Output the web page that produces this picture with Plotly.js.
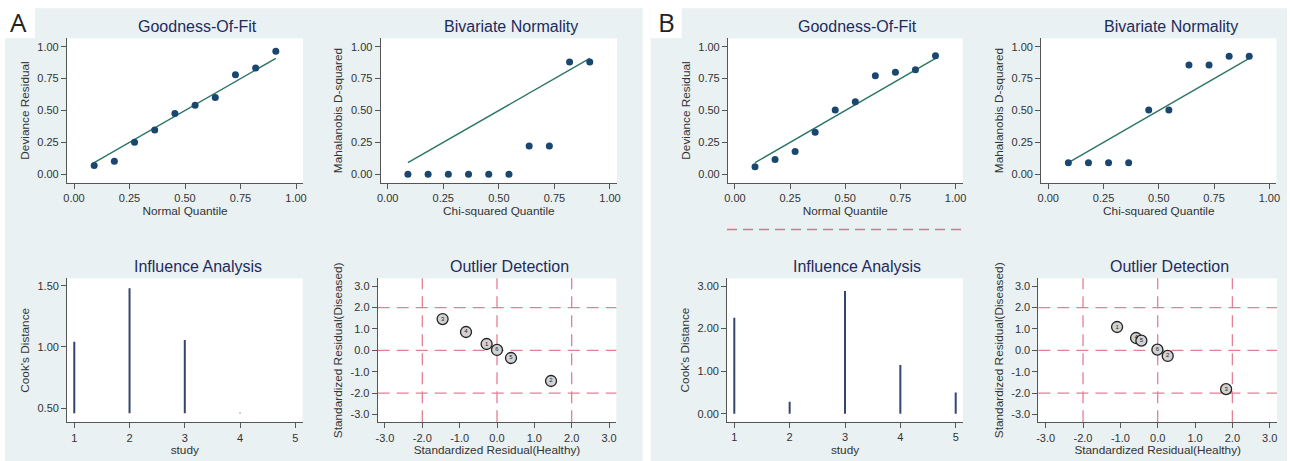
<!DOCTYPE html>
<html><head><meta charset="utf-8">
<script src="https://cdn.plot.ly/plotly-3.0.1.min.js"></script>
<style>html,body{margin:0;padding:0;background:#fff}#chart{width:1290px;height:461px}</style>
</head><body><div id="chart"></div>
<script>
// ---------- data ----------
const quantiles = [0.0909, 0.1818, 0.2727, 0.3636, 0.4545, 0.5455, 0.6364, 0.7273, 0.8182, 0.9091];
const devResidA = [0.068, 0.102, 0.252, 0.348, 0.477, 0.542, 0.602, 0.781, 0.833, 0.964];
const mahalA    = [0.000, 0.000, 0.000, 0.000, 0.000, 0.000, 0.222, 0.222, 0.880, 0.880];
const devResidB = [0.060, 0.115, 0.178, 0.330, 0.503, 0.568, 0.773, 0.799, 0.820, 0.930];
const mahalB    = [0.091, 0.091, 0.091, 0.091, 0.503, 0.503, 0.857, 0.857, 0.925, 0.925];

const studies = [1, 2, 3, 4, 5];
const cookA = [1.043, 1.479, 1.057, 0.463, 0.459];
const cookBaseA = 0.459;
const cookB = [2.256, 0.282, 2.880, 1.144, 0.500];
const cookBaseB = 0;

const healthyA  = [-1.457, -0.830, -0.278, 0.000, 0.375, 1.447];
const diseasedA = [1.463, 0.857, 0.294, 0.016, -0.360, -1.436];
const labelsA   = ["3", "4", "1", "6", "5", "2"];
const healthyB  = [-1.088, -0.579, -0.437, -0.008, 0.268, 1.832];
const diseasedB = [1.090, 0.576, 0.452, 0.030, -0.265, -1.820];
const labelsB   = ["1", "4", "5", "6", "2", "3"];

const outlierRefs = [-2, 0, 2];
const qTicks = [0, 0.25, 0.5, 0.75, 1];
const cookTicksA = [0.5, 1, 1.5];
const cookTicksB = [0, 1, 2, 3];
const outTicks = [-3, -2, -1, 0, 1, 2, 3];

// ---------- helpers ----------
const W = 1290, H = 461;
const FONT = "Liberation Sans, Arial, sans-serif";
const NAVY = "#1a476f";
const TEAL = "#2b7566";
const PINK = "#e57f93";
const BG = "#e9f1f2";
const dx = (l, r) => [l / W, r / W];
const dy = (t, b) => [1 - b / H, 1 - t / H];

function axis(domain, range, anchor, extra) {
  return Object.assign({
    domain: domain, range: range, anchor: anchor,
    showline: true, linecolor: "#555", linewidth: 1,
    ticks: "outside", ticklen: 5, tickwidth: 1, tickcolor: "#555",
    showgrid: false, zeroline: false, automargin: false, fixedrange: true,
    tickfont: {family: FONT, size: 11, color: "#333"}
  }, extra);
}
function ttl(text, standoff) {
  return {text: text, standoff: standoff, font: {family: FONT, size: 11.8, color: "#333"}};
}
function fmt(arr, d) { return arr.map(v => v.toFixed(d)); }

function dots(x, y, xa, ya) {
  return {x: x, y: y, xaxis: xa, yaxis: ya, type: "scatter", mode: "markers",
    marker: {color: NAVY, size: 7}, hoverinfo: "skip", showlegend: false};
}
function refLine(xa, ya) {
  const ends = [quantiles[0], quantiles[quantiles.length - 1]];
  return {x: ends, y: ends, xaxis: xa, yaxis: ya, type: "scatter", mode: "lines",
    line: {color: TEAL, width: 1.4}, hoverinfo: "skip", showlegend: false};
}
function spikes(xs, vals, base, xa, ya) {
  const x = [], y = [];
  xs.forEach((s, i) => { x.push(s, s, null); y.push(base, vals[i], null); });
  return {x: x, y: y, xaxis: xa, yaxis: ya, type: "scatter", mode: "lines",
    line: {color: "#34466e", width: 2}, hoverinfo: "skip", showlegend: false};
}
function circles(x, y, labels, xa, ya) {
  return {x: x, y: y, text: labels, xaxis: xa, yaxis: ya, type: "scatter", mode: "markers+text",
    textposition: "middle center", textfont: {family: FONT, size: 6, color: "#222"},
    marker: {color: "#d2d2d2", size: 11, line: {color: "#222", width: 1.3}},
    hoverinfo: "skip", showlegend: false};
}

const data = [
  refLine("x", "y"), dots(quantiles, devResidA, "x", "y"),
  refLine("x2", "y2"), dots(quantiles, mahalA, "x2", "y2"),
  refLine("x3", "y3"), dots(quantiles, devResidB, "x3", "y3"),
  refLine("x4", "y4"), dots(quantiles, mahalB, "x4", "y4"),
  spikes(studies, cookA, cookBaseA, "x5", "y5"),
  circles(healthyA, diseasedA, labelsA, "x6", "y6"),
  spikes(studies, cookB, cookBaseB, "x7", "y7"),
  circles(healthyB, diseasedB, labelsB, "x8", "y8")
];

const topY = dy(38.3, 182.7);
const qRange = [-0.032, 1.032];
const qyRange = [-0.066, 1.066];
const qx = {tickvals: qTicks, ticktext: fmt(qTicks, 2)};
const outAx = {tickvals: outTicks, ticktext: fmt(outTicks, 1)};

const layout = {
  width: W, height: H,
  margin: {l: 0, r: 0, t: 0, b: 0},
  paper_bgcolor: BG, plot_bgcolor: "#ffffff",
  font: {family: FONT, color: "#333"},
  showlegend: false,
  xaxis:  axis(dx(66.9, 303.1), qRange, "y",  Object.assign({title: ttl("Normal Quantile", 0)}, qx)),
  yaxis:  axis(topY, qyRange, "x",  Object.assign({title: ttl("Deviance Residual", 5)}, qx)),
  xaxis2: axis(dx(380.6, 617.1), qRange, "y2", Object.assign({title: ttl("Chi-squared Quantile", 0)}, qx)),
  yaxis2: axis(topY, qyRange, "x2", Object.assign({title: ttl("Mahalanobis D-squared", 5)}, qx)),
  xaxis3: axis(dx(727.9, 962.6), qRange, "y3", Object.assign({title: ttl("Normal Quantile", 0)}, qx)),
  yaxis3: axis(topY, qyRange, "x3", Object.assign({title: ttl("Deviance Residual", 5)}, qx)),
  xaxis4: axis(dx(1041.2, 1276.4), qRange, "y4", Object.assign({title: ttl("Chi-squared Quantile", 0)}, qx)),
  yaxis4: axis(topY, qyRange, "x4", Object.assign({title: ttl("Mahalanobis D-squared", 5)}, qx)),
  xaxis5: axis(dx(67.1, 302.5), [0.87, 5.13], "y5", {tickvals: studies, ticktext: studies.map(String), title: ttl("study", 0)}),
  yaxis5: axis(dy(278.3, 422.3), [0.386, 1.560], "x5", {tickvals: cookTicksA, ticktext: fmt(cookTicksA, 2), title: ttl("Cook's Distance", 5)}),
  xaxis6: axis(dx(377.7, 616.3), [-3.195, 3.195], "y6", Object.assign({title: ttl("Standardized Residual(Healthy)", 0)}, outAx)),
  yaxis6: axis(dy(278.3, 422.3), [-3.37, 3.37], "x6", Object.assign({title: ttl("Standardized Residual(Diseased)", 5)}, outAx)),
  xaxis7: axis(dx(727.1, 962.9), [0.87, 5.13], "y7", {tickvals: studies, ticktext: studies.map(String), title: ttl("study", 0)}),
  yaxis7: axis(dy(278.3, 421.7), [-0.188, 3.181], "x7", {tickvals: cookTicksB, ticktext: fmt(cookTicksB, 2), title: ttl("Cook's Distance", 5)}),
  xaxis8: axis(dx(1038.4, 1277), [-3.195, 3.195], "y8", Object.assign({title: ttl("Standardized Residual(Healthy)", 0)}, outAx)),
  yaxis8: axis(dy(278.3, 422.3), [-3.37, 3.37], "x8", Object.assign({title: ttl("Standardized Residual(Diseased)", 5)}, outAx)),
  shapes: [],
  annotations: []
};

// white page areas around the two panels
const whiteBoxes = [
  [0, 0, W, 8.3], [0, 0, 5, H], [0, 0, 35, 38.3],
  [642.7, 0, 650.7, H], [650.7, 0, 681.7, 38.3], [1287, 0, W, H]
];
whiteBoxes.forEach(b => layout.shapes.push({
  type: "rect", xref: "paper", yref: "paper", layer: "below",
  x0: b[0] / W, x1: b[2] / W, y0: 1 - b[3] / H, y1: 1 - b[1] / H,
  fillcolor: "#ffffff", line: {width: 0}
}));
// stray dashed line in panel B
layout.shapes.push({type: "line", xref: "paper", yref: "paper",
  x0: 727 / W, x1: 963 / W, y0: 1 - 229.5 / H, y1: 1 - 229.5 / H,
  line: {color: "#e0708a", width: 1.6, dash: "10px,6px"}});

// reference lines in outlier plots
[["x6", "y6"], ["x8", "y8"]].forEach(([xa, ya]) => {
  outlierRefs.forEach(v => {
    layout.shapes.push({type: "line", xref: xa, yref: ya + " domain", x0: v, x1: v, y0: 0, y1: 1,
      layer: "below", line: {color: PINK, width: 1.3, dash: "12px,7px"}});
    layout.shapes.push({type: "line", xref: xa + " domain", yref: ya, x0: 0, x1: 1, y0: v, y1: v,
      layer: "below", line: {color: PINK, width: 1.3, dash: "12px,7px"}});
  });
});

// subplot titles
const titles = [
  ["Goodness-Of-Fit", 197.5, 27], ["Bivariate Normality", 511, 27],
  ["Goodness-Of-Fit", 857.8, 27], ["Bivariate Normality", 1171.3, 27],
  ["Influence Analysis", 197.5, 266.5], ["Outlier Detection", 509.5, 266.5],
  ["Influence Analysis", 857, 266.5], ["Outlier Detection", 1169.5, 266.5]
];
titles.forEach(t => layout.annotations.push({
  text: t[0], xref: "paper", yref: "paper", x: t[1] / W, y: 1 - t[2] / H,
  xanchor: "center", yanchor: "middle", showarrow: false,
  font: {family: FONT, size: 16, color: "#1e2b5c"}
}));
// panel letters
[["A", 18, 22], ["B", 666.5, 22]].forEach(p => layout.annotations.push({
  text: p[0], xref: "paper", yref: "paper", x: p[1] / W, y: 1 - p[2] / H,
  xanchor: "center", yanchor: "middle", showarrow: false,
  font: {family: "Open Sans, Liberation Sans, sans-serif", size: 26, color: "#222"}
}));

Plotly.newPlot("chart", data, layout, {displayModeBar: false, staticPlot: true});
</script></body></html>
